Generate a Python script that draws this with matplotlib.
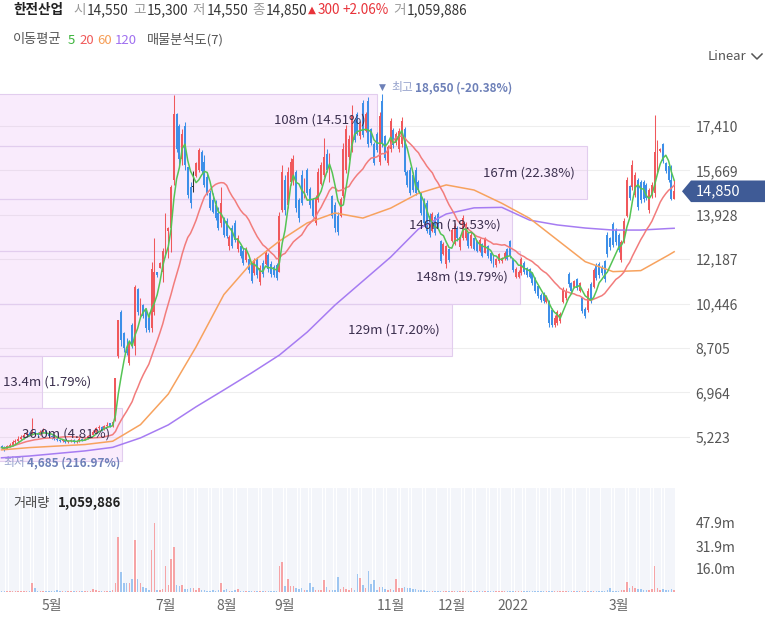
import matplotlib
matplotlib.use("Agg")
import matplotlib.pyplot as plt
from matplotlib.patches import Rectangle, Polygon
from matplotlib.lines import Line2D
from matplotlib.transforms import blended_transform_factory
import numpy as np
import pandas as pd

plt.rcParams['font.family'] = ['Noto Sans CJK KR', 'DejaVu Sans']

# daily candles: open, high, low, close, volume (millions of shares)
apr_2021 = [
    (4850, 4900, 4760, 4800, 0.6), (4780, 4850, 4685, 4760, 0.5), (4760, 4900, 4750, 4850, 0.7),
    (4850, 4980, 4820, 4900, 0.6), (4900, 5080, 4880, 5000, 0.8), (5000, 5120, 4950, 5050, 0.6),
    (5050, 5250, 5020, 5150, 0.9), (5150, 5280, 5080, 5200, 0.7), (5200, 5380, 5150, 5300, 1.0),
    (5300, 5420, 5250, 5350, 0.9), (5350, 5400, 5250, 5300, 0.6), (5300, 5960, 5280, 5400, 6.0),
    (5420, 5500, 5300, 5350, 2.8), (5350, 5420, 5250, 5300, 0.8), (5300, 5480, 5280, 5400, 0.9),
    (5400, 5560, 5380, 5450, 1.0), (5450, 5480, 5320, 5350, 0.7), (5350, 5380, 5200, 5250, 0.6),
]
may_2021 = [
    (5250, 5300, 5150, 5200, 0.5), (5200, 5250, 5100, 5150, 0.5), (5150, 5220, 5050, 5100, 1.4),
    (5100, 5150, 5000, 5050, 0.6), (5050, 5150, 5020, 5100, 0.5), (5100, 5120, 4980, 5000, 0.5),
    (5000, 5100, 4970, 5050, 0.4), (5050, 5150, 5020, 5100, 0.5), (5100, 5120, 4980, 5000, 0.4),
    (5000, 5100, 4980, 5050, 0.4), (5050, 5200, 5030, 5150, 0.6), (5150, 5180, 5060, 5100, 0.5),
    (5100, 5200, 5080, 5150, 0.5), (5150, 5300, 5120, 5250, 0.8), (5250, 5350, 5200, 5300, 0.7),
    (5300, 5480, 5280, 5400, 1.9), (5400, 5620, 5380, 5550, 1.2), (5550, 5700, 5500, 5600, 1.0),
    (5600, 5650, 5450, 5500, 0.7),
]
jun_2021 = [
    (5500, 5700, 5480, 5650, 0.8), (5650, 5800, 5600, 5700, 1.0), (5750, 5780, 5600, 5650, 0.8),
    (5650, 5850, 5620, 5800, 1.2), (5900, 7540, 5850, 7540, 6.0), (8400, 9800, 8300, 9800, 38.0),
    (10100, 10200, 8800, 9000, 14.0), (9300, 9350, 8550, 8700, 6.0), (8700, 9100, 8430, 8500, 6.0),
    (8100, 8940, 8040, 8900, 6.3), (9600, 9690, 8710, 8800, 9.0), (8800, 11180, 8430, 11100, 36.0),
    (11000, 11060, 10000, 10100, 9.0), (10000, 10670, 9880, 10600, 6.3), (10400, 10450, 9880, 9950, 3.7),
    (10200, 10270, 9330, 9500, 2.5), (9900, 10100, 9330, 9400, 1.4), (9500, 12080, 9330, 11800, 29.0),
    (10100, 13020, 10000, 11700, 47.9), (11700, 11700, 11500, 11550, 1.5), (11850, 12080, 11840, 12050, 1.5),
    (11700, 12630, 11300, 12500, 1.8),
]
jul_2021 = [
    (12400, 14000, 12270, 13900, 18.0), (13300, 13450, 12230, 13400, 4.9), (13400, 15100, 12470, 15000, 23.0),
    (15300, 18620, 15100, 17900, 31.0), (17900, 17920, 16390, 16500, 4.9), (17400, 17500, 15900, 16100, 4.2),
    (16100, 17300, 15900, 17100, 4.9), (17400, 17570, 15700, 15900, 2.0), (15800, 15800, 14600, 14700, 2.0),
    (15000, 15200, 14200, 14400, 2.5), (15000, 15650, 14820, 15000, 2.5), (15450, 16010, 15420, 15950, 1.5),
    (15700, 16550, 15610, 16450, 2.5), (16400, 16470, 15570, 15650, 1.5), (16000, 16270, 15020, 15100, 1.2),
    (15400, 15570, 14710, 14800, 1.0), (14800, 14900, 14120, 14200, 1.0), (14500, 14780, 14000, 14050, 1.5),
    (14300, 14510, 13730, 13800, 1.0), (14000, 14240, 13330, 13400, 1.5), (13600, 15020, 13450, 14400, 6.0),
    (13800, 13840, 13060, 13150, 1.5),
]
aug_2021 = [
    (13700, 13800, 13020, 13100, 1.9), (12700, 13140, 12550, 13050, 0.9), (13400, 13530, 12630, 12700, 1.0),
    (13600, 13730, 12860, 12950, 1.5), (12600, 13140, 12470, 13000, 1.9), (12700, 12750, 12240, 12300, 0.9),
    (12500, 12630, 11960, 12050, 0.8), (12150, 12670, 12080, 12600, 1.0), (12200, 12240, 11650, 11750, 0.8),
    (12000, 12080, 11260, 11350, 0.9), (11650, 12240, 11570, 12150, 0.8), (12200, 12280, 11450, 11550, 0.7),
    (11300, 11960, 11180, 11850, 0.8), (12050, 12160, 11490, 11600, 0.7), (12000, 12550, 11960, 12450, 0.9),
    (12350, 12430, 11690, 11800, 0.7), (12000, 12100, 11500, 11600, 0.6), (11900, 11960, 11490, 11550, 0.6),
    (11950, 12040, 11370, 11450, 0.7), (11700, 14040, 11690, 13900, 18.0), (14100, 15880, 14040, 15600, 21.0),
]
sep_2021 = [
    (15300, 15500, 13920, 14100, 4.2), (14300, 15800, 14200, 15600, 9.0), (15200, 16160, 15100, 16000, 4.2),
    (15300, 16270, 15100, 16100, 4.2), (15600, 15690, 14040, 14200, 2.5), (14500, 14590, 13650, 13800, 2.0),
    (15500, 15690, 14310, 14400, 2.5), (14650, 15370, 14590, 15300, 1.5), (15700, 15770, 14710, 14800, 1.5),
    (14950, 15020, 14200, 14300, 6.3), (14500, 14590, 13840, 13900, 3.7), (13600, 14710, 13530, 14600, 1.5),
    (14500, 15770, 14430, 15600, 1.2), (15150, 16000, 15100, 15900, 1.5), (15500, 16940, 15410, 16200, 8.4),
    (16300, 16500, 15600, 15700, 3.7), (15300, 16350, 15220, 16200, 1.5), (14650, 14710, 13800, 13900, 1.2),
    (14300, 14430, 13250, 13400, 1.5),
]
oct_2021 = [
    (13900, 14040, 13140, 13250, 10.7), (13900, 14630, 13840, 14550, 2.0), (14650, 16740, 14590, 16500, 3.7),
    (15700, 17450, 15570, 17300, 2.0), (16200, 17060, 16080, 16900, 1.5), (16500, 18230, 16390, 17800, 2.5),
    (17650, 17720, 16780, 16850, 1.5), (17900, 17960, 17060, 17100, 12.3), (17000, 17600, 16900, 17500, 10.0),
    (18300, 18430, 16980, 17050, 4.9), (17200, 17960, 17170, 17900, 2.8), (18400, 18550, 16590, 16700, 14.8),
    (17300, 17330, 16670, 16750, 5.3), (16700, 16780, 15880, 15950, 8.4), (17100, 17170, 16390, 16450, 1.5),
    (16000, 17960, 15880, 17800, 3.7), (18400, 18650, 16590, 16700, 3.2), (17000, 17060, 16080, 16150, 2.0),
    (15950, 16670, 15880, 16600, 1.5),
]
nov_2021 = [
    (16500, 17720, 16390, 17600, 2.0), (17250, 17330, 16550, 16650, 1.5), (16750, 17170, 16670, 17100, 8.8),
    (16500, 17330, 16390, 17200, 2.5), (16700, 17760, 16590, 17600, 3.0), (17300, 17370, 15490, 15600, 3.2),
    (15600, 15690, 15020, 15100, 2.8), (15700, 15800, 14710, 14800, 2.5), (15500, 15610, 14820, 14900, 2.0),
    (15700, 15800, 14710, 14800, 1.8), (15200, 15290, 14820, 14900, 1.5), (14750, 14820, 13920, 14000, 1.5),
    (14500, 14600, 13500, 13600, 1.2), (14400, 14510, 13220, 13300, 1.0), (13900, 14000, 13060, 13150, 1.0),
    (13300, 14040, 13250, 13950, 0.8), (13850, 13920, 13140, 13200, 0.8), (13950, 14040, 13410, 13500, 0.7),
    (12900, 12940, 12040, 12100, 0.8), (12400, 12860, 12350, 12800, 0.6), (12000, 12750, 11840, 12700, 0.6),
    (12600, 12630, 12080, 12150, 0.5),
]
dec_2021 = [
    (12900, 13410, 12860, 13350, 0.6), (12800, 13610, 12750, 13500, 0.6), (13400, 13500, 12900, 13000, 0.5),
    (12650, 13140, 12550, 13050, 0.5), (13000, 13920, 12940, 13800, 0.6), (13000, 13650, 12940, 13550, 0.5),
    (13200, 13250, 12630, 12700, 0.5), (12700, 13250, 12630, 13150, 0.5), (13000, 13020, 12550, 12600, 0.4),
    (12900, 12940, 12470, 12500, 0.4), (12500, 13020, 12470, 12950, 0.5), (12800, 12820, 12280, 12300, 0.4),
    (12450, 13060, 12430, 13000, 0.5), (12700, 12750, 12240, 12300, 0.4), (12450, 12470, 12040, 12100, 0.4),
    (12300, 12350, 11880, 11950, 0.4), (11950, 12240, 11880, 12200, 0.4), (12100, 12430, 12040, 12400, 0.5),
    (12100, 12280, 12040, 12250, 0.4), (12250, 12500, 12150, 12450, 0.4), (12600, 12630, 12160, 12200, 0.5),
    (12900, 12940, 12240, 12300, 0.5),
]
jan_2022 = [
    (12200, 12240, 11690, 11750, 0.5), (11500, 11900, 11450, 11800, 0.4), (11500, 11770, 11450, 11700, 0.4),
    (11650, 12280, 11570, 12200, 0.6), (12050, 12100, 11600, 11700, 0.4), (11850, 11880, 11490, 11550, 0.4),
    (11800, 11840, 11450, 11500, 0.4), (11650, 11690, 11180, 11250, 0.5), (11450, 11490, 10860, 10950, 0.5),
    (11150, 11180, 10670, 10750, 0.5), (10800, 10860, 10510, 10600, 0.4), (10850, 10900, 10470, 10550, 0.4),
    (10500, 10780, 10470, 10750, 0.4), (10500, 10590, 9530, 9700, 0.8), (10200, 10270, 9530, 9600, 0.7),
    (9600, 10000, 9530, 9900, 0.6), (9700, 10200, 9610, 10100, 0.5), (9750, 10120, 9690, 10050, 0.5),
    (10500, 11100, 10470, 11000, 0.7), (10650, 11060, 10590, 10950, 0.5),
]
feb_2022 = [
    (11600, 11690, 11100, 11200, 0.6), (11250, 11300, 10860, 10950, 0.5), (11100, 11370, 11060, 11350, 0.5),
    (11400, 11450, 10980, 11050, 0.5), (10950, 11300, 10900, 11250, 0.5), (10650, 10710, 10080, 10150, 0.6),
    (10250, 10310, 9880, 9950, 0.6), (10200, 11060, 10120, 10950, 0.7), (11200, 11300, 10470, 10600, 0.6),
    (11100, 11840, 11060, 11750, 0.7), (11950, 12040, 11370, 11450, 0.6), (12000, 12080, 11450, 11550, 0.6),
    (11900, 11960, 11570, 11650, 0.5), (12100, 12160, 11300, 11400, 0.6), (13150, 13250, 12280, 12400, 1.2),
    (13000, 13060, 12550, 12650, 2.5), (13550, 13650, 12670, 12750, 1.0), (13350, 13410, 12750, 12850, 0.8),
]
mar_2022 = [
    (13150, 13220, 12470, 12550, 1.0), (12150, 12940, 12080, 12850, 1.2), (12900, 13800, 12820, 13700, 1.5),
    (13900, 15410, 13840, 15300, 7.2), (15050, 15100, 14510, 14600, 2.5), (15000, 16080, 14900, 15900, 4.2),
    (14700, 15610, 14630, 15500, 2.5), (15300, 15370, 14120, 14250, 2.0), (15200, 15300, 14400, 14500, 1.8),
    (15200, 15290, 14430, 14550, 1.5), (15100, 15180, 14510, 14600, 1.2), (14100, 14980, 14000, 14900, 1.5),
    (14700, 15200, 14600, 15100, 2.0), (14800, 17840, 14630, 16400, 18.0), (15700, 16860, 15610, 16700, 2.5),
    (16420, 16550, 16400, 16520, 1.5), (16700, 16740, 15960, 16050, 1.8), (15950, 16000, 15570, 15650, 1.2),
    (15850, 15900, 15200, 15300, 1.5), (15300, 15880, 14500, 14550, 1.8), (14550, 15300, 14550, 14850, 1.059886),
]

krx_holidays = ['2021-05-05', '2021-05-19', '2021-08-16', '2021-09-20', '2021-09-21', '2021-09-22',
                '2021-10-04', '2021-10-11', '2021-12-31', '2022-01-31', '2022-02-01', '2022-02-02',
                '2022-03-01', '2022-03-09']

# 60 / 120 day averages, one value every 10 sessions plus the last session
ma60_read = [4710, 4800, 4860, 4920, 5050, 5700, 6900, 8750, 10800, 12050, 12900, 13610, 14000,
             13800, 14190, 14770, 15100, 14900, 14380, 13790, 12940, 12090, 11700, 11740, 12350, 12480]
ma120_read = [4400, 4470, 4570, 4670, 4810, 5180, 5690, 6400, 7060, 7730, 8430, 9330, 10390,
              11330, 12270, 13370, 13960, 14200, 14220, 13720, 13530, 13410, 13330, 13330, 13390, 13400]

price_ticks = [5223, 6964, 8705, 10446, 12187, 13928, 15669, 17410]
month_ticks = [('2021-05-01', '5월'), ('2021-07-01', '7월'), ('2021-08-01', '8월'), ('2021-09-01', '9월'),
               ('2021-11-01', '11월'), ('2021-12-01', '12월'), ('2022-01-01', '2022'), ('2022-03-01', '3월')]

# volume profile (매물분석도), lowest price band first
profile_volume = [36.0, 13.4, 129, 148, 146, 167, 108]
profile_share = [4.81, 1.79, 17.20, 19.79, 19.53, 22.38, 14.51]
profile_low, profile_high = 4290, 18660

RED, BLUE = '#f0585c', '#3d8fe8'

df = pd.DataFrame(apr_2021 + may_2021 + jun_2021 + jul_2021 + aug_2021 + sep_2021 + oct_2021
                  + nov_2021 + dec_2021 + jan_2022 + feb_2022 + mar_2022,
                  columns=['open', 'high', 'low', 'close', 'volume'])
days = pd.bdate_range('2021-04-07', '2022-03-31', freq='C', holidays=krx_holidays)
df['date'] = days[:len(df)]
n = len(df)
x = np.arange(n)

W, H = 765, 619
fig = plt.figure(figsize=(W / 100, H / 100), dpi=100)


def box(l, t, r, b):
    return [l / W, 1 - b / H, (r - l) / W, (b - t) / H]


def ftext(px, py, s, **kw):
    kw.setdefault('va', 'center')
    kw.setdefault('ha', 'left')
    fig.text(px / W, 1 - py / H, s, **kw)


ax = fig.add_axes(box(0, 75, 690, 478))
axv = fig.add_axes(box(0, 488, 690, 592))
xlim = (-0.54, 247.7)
ylim = (3608, 19410)

# ---- price panel
ax.set_xlim(*xlim)
ax.set_ylim(*ylim)
ax.set_yticks(price_ticks)
ax.set_yticklabels([f'{t:,}' for t in price_ticks])
ax.yaxis.tick_right()
ax.tick_params(axis='y', length=0, pad=4, labelsize=10, labelcolor='#555555')
ax.set_xticks([])
ax.grid(axis='y', color='#eeeeee', lw=0.8)
ax.set_axisbelow(True)
for s in ax.spines.values():
    s.set_visible(False)

tr = blended_transform_factory(ax.transAxes, ax.transData)
edges = np.linspace(profile_low, profile_high, len(profile_volume) + 1)
vmax = max(profile_volume)
left = -6 / 690
for i, (v, share) in enumerate(zip(profile_volume, profile_share)):
    right = left + v / vmax * 593 / 690
    ax.add_patch(Rectangle((left, edges[i]), right - left, edges[i + 1] - edges[i], transform=tr,
                           facecolor=(0.87, 0.55, 0.95, 0.17), edgecolor='#e2cdee', lw=0.8,
                           zorder=1, clip_on=True))
    label = (f'{v:.1f}m' if v < 100 else f'{v:.0f}m') + f' ({share:.2f}%)'
    ymid = (edges[i] + edges[i + 1]) / 2
    if right * 690 > 100:
        ax.text(right - 12 / 690, ymid, label, transform=tr, ha='right', va='center',
                fontsize=9.5, color='#3b2f4e', zorder=6)
    else:
        ax.text(3 / 690, ymid, label, transform=tr, ha='left', va='center',
                fontsize=9.5, color='#3b2f4e', zorder=6)

up = (df.close > df.open).values
down = (df.close < df.open).values
col = np.where(up, RED, np.where(down, BLUE, '#333333'))
ax.vlines(x, df.low, df.high, colors=col, lw=0.75, zorder=3)
body_lo = np.minimum(df.open, df.close)
body_h = np.maximum((df.close - df.open).abs(), 40)
ax.bar(x, body_h, bottom=body_lo, width=0.7, color=col, lw=0, zorder=3)

ma5 = df.close.rolling(5, min_periods=1).mean()
ma20 = df.close.rolling(20, min_periods=1).mean()
sample_x = np.r_[np.arange(0, n, 10), n - 1]
ax.plot(sample_x, ma120_read, color='#a67cf2', lw=1.1, zorder=4)
ax.plot(sample_x, ma60_read, color='#f7a25e', lw=1.1, zorder=4)
ax.plot(x, ma20, color='#f27c7c', lw=1.1, zorder=4)
ax.plot(x, ma5, color='#55c455', lw=1.1, zorder=4)

# high / low markers
last = int(df.close.iloc[-1])
hi_i = int(df.high.idxmax())
hi = int(df.high.max())
lo_i = int(df.low.idxmin())
lo = int(df.low.min())
ax.annotate('▼', xy=(hi_i, hi), xytext=(0, 7), textcoords='offset pixels', ha='center', va='center',
            fontsize=6.5, color='#6d80b8', family=['DejaVu Sans'])
ax.annotate('최고', xy=(hi_i, hi), xytext=(9, 7), textcoords='offset pixels', ha='left', va='center',
            fontsize=8.5, color='#95a2cc')
ax.annotate(f'{hi:,} ({(last / hi - 1) * 100:.2f}%)', xy=(hi_i, hi), xytext=(33, 7),
            textcoords='offset pixels', ha='left', va='center', fontsize=8.5, color='#6d80b8',
            fontweight='bold')
ax.annotate('최저', xy=(lo_i, lo), xytext=(-1, -12), textcoords='offset pixels', ha='left', va='center',
            fontsize=8.5, color='#95a2cc')
ax.annotate(f'{lo:,} ({(last / lo - 1) * 100:.2f}%)', xy=(lo_i, lo), xytext=(23, -12),
            textcoords='offset pixels', ha='left', va='center', fontsize=8.5, color='#6d80b8',
            fontweight='bold')

# current price tag
trf = blended_transform_factory(fig.transFigure, ax.transData)
half = 10.8 * (ylim[1] - ylim[0]) / (478 - 75)
tag = Polygon([(682 / W, last), (691 / W, last + half), (1, last + half), (1, last - half),
               (691 / W, last - half)], closed=True, transform=trf, facecolor='#3f5b96',
              edgecolor='none', clip_on=False, zorder=10)
fig.add_artist(tag)
fig.text(696 / W, last, f'{last:,}', transform=trf, ha='left', va='center', fontsize=10.5,
         color='white', zorder=11)

# ---- volume panel
vol_max = df.volume.max()
vol_top = vol_max * 104 / 69
axv.set_xlim(*xlim)
axv.set_ylim(0, vol_top)
axv.bar(x, vol_top, width=0.85, color='#f3f5fa', lw=0, zorder=0)
axv.bar(x, df.volume, width=0.55, color=np.where(down, '#9ec6f1', '#f6a4a6'), lw=0, zorder=2)
vt = [vol_max / 3, vol_max * 2 / 3, vol_max]
axv.set_yticks(vt)
axv.set_yticklabels([f'{v:.1f}m' for v in vt])
axv.yaxis.tick_right()
axv.tick_params(axis='y', length=0, pad=4, labelsize=10, labelcolor='#555555')
tick_idx = [int(np.searchsorted(df.date.values, np.datetime64(d))) for d, _ in month_ticks]
axv.set_xticks(tick_idx)
axv.set_xticklabels([lab for _, lab in month_ticks])
axv.tick_params(axis='x', length=0, pad=5, labelsize=10, labelcolor='#666666')
for s in axv.spines.values():
    s.set_visible(False)

# ---- header texts
o, h, l, c = df.iloc[-1][['open', 'high', 'low', 'close']].astype(int)
prev = int(df.close.iloc[-2])
vol_last = int(round(df.volume.iloc[-1] * 1e6))
ftext(13, 10, '한전산업', fontsize=9.8, fontweight='bold', color='#222222')
ftext(73, 10, '시', fontsize=9.8, color='#9a9a9a')
ftext(87, 10, f'{o:,}', fontsize=9.8, color='#333333')
ftext(133, 10, '고', fontsize=9.8, color='#9a9a9a')
ftext(147, 10, f'{h:,}', fontsize=9.8, color='#333333')
ftext(192, 10, '저', fontsize=9.8, color='#9a9a9a')
ftext(207, 10, f'{l:,}', fontsize=9.8, color='#333333')
ftext(252, 10, '종', fontsize=9.8, color='#9a9a9a')
ftext(266, 10, f'{c:,}', fontsize=9.8, color='#333333')
ftext(308, 10, '▲', fontsize=7.5, color='#e8333a', family=['DejaVu Sans'])
ftext(318, 10, f'{c - prev:,}', fontsize=9.8, color='#e8333a')
ftext(343, 10, f'+{(c - prev) / prev * 100:.2f}%', fontsize=9.8, color='#e8333a')
ftext(393, 10, '거', fontsize=9.8, color='#9a9a9a')
ftext(407, 10, f'{vol_last:,}', fontsize=9.8, color='#333333')

ftext(13, 40, '이동평균', fontsize=9.5, color='#555555')
ftext(68, 40, '5', fontsize=9.5, color='#3cb43c')
ftext(79, 40, '20', fontsize=9.5, color='#f05a5a')
ftext(97, 40, '60', fontsize=9.5, color='#f59c54')
ftext(115, 40, '120', fontsize=9.5, color='#a070f0')
ftext(147, 40, '매물분석도(7)', fontsize=9.5, color='#555555')

ftext(708, 57, 'Linear', fontsize=9.5, color='#555555')
fig.add_artist(Line2D([752 / W, 757 / W, 762 / W], [1 - 54 / H, 1 - 59 / H, 1 - 54 / H],
                      color='#555555', lw=1.1))

ftext(13, 503, '거래량', fontsize=9.5, color='#444444')
ftext(58, 503, f'{vol_last:,}', fontsize=9.5, color='#222222', fontweight='bold')

fig.savefig('out.png', dpi=100, facecolor='white')
